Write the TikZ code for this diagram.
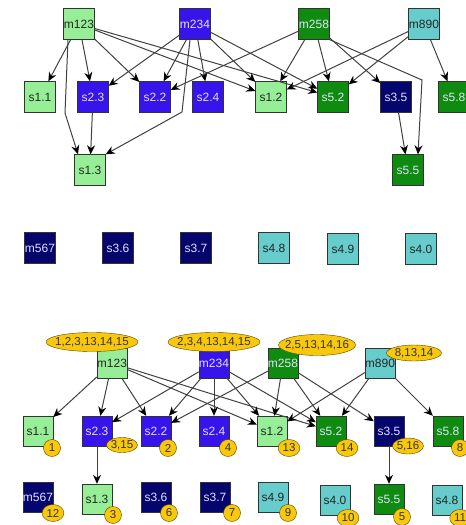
\documentclass[tikz,border=0pt]{standalone}
\usepackage{fontspec}
\setmainfont{Liberation Sans}
\usepackage{tikz}
\usetikzlibrary{arrows.meta}
\usetikzlibrary{shapes.geometric}
\usepackage{xcolor}
\definecolor{ColLight}{RGB}{150,238,150}
\definecolor{ColBlue}{RGB}{55,20,235}
\definecolor{ColGreen}{RGB}{15,140,15}
\definecolor{ColTeal}{RGB}{102,204,204}
\definecolor{ColNavy}{RGB}{5,5,110}
\definecolor{ColTag}{RGB}{250,200,10}
\definecolor{ColLine}{RGB}{65,65,65}
\definecolor{ColPale}{RGB}{225,225,255}
\tikzstyle{Box}=[rectangle,draw=black!80,minimum size=31pt,inner sep=0pt,
font=\fontsize{12}{14}\selectfont]
\tikzstyle{BoxL}=[Box,fill=ColLight,text=black!85]
\tikzstyle{BoxB}=[Box,fill=ColBlue,text=ColPale]
\tikzstyle{BoxG}=[Box,fill=ColGreen,text=ColPale]
\tikzstyle{BoxT}=[Box,fill=ColTeal,text=black!85]
\tikzstyle{BoxN}=[Box,fill=ColNavy,text=ColPale]
\tikzstyle{Tag}=[ellipse,draw=ColTag!35!black,fill=ColTag,inner xsep=1.3pt,inner ysep=0pt,
minimum width=17pt,minimum height=17pt,text=black!80,font=\fontsize{11.5}{13}\selectfont]
\tikzstyle{TagWide}=[Tag,inner xsep=-20pt]
\tikzstyle{EdgeGraph}=[ColLine,line width=1pt,-{Stealth[length=9pt,width=8pt,color=black]}]

\begin{document}
\begin{tikzpicture}[x=1pt,y=-1pt]
        \useasboundingbox[fill=white](0,0)rectangle(466,525);
        \node[BoxL](tm123)at(79,24){m123};
        \node[BoxB](tm234)at(195,24){m234};
        \node[BoxG](tm258)at(314,24){m258};
        \node[BoxT](tm890)at(424,24){m890};
        \node[BoxL](ts11)at(40,97){s1.1};
        \node[BoxB](ts23)at(93,97){s2.3};
        \node[BoxB](ts22)at(155,97){s2.2};
        \node[BoxB](ts24)at(208,97){s2.4};
        \node[BoxL](ts12)at(271,97){s1.2};
        \node[BoxG](ts52)at(333,97){s5.2};
        \node[BoxN](ts35)at(396,97){s3.5};
        \node[BoxG](ts58)at(454,97){s5.8};
        \node[BoxL](ts13)at(90,170){s1.3};
        \node[BoxG](ts55)at(408,170){s5.5};
        \node[BoxN](tm567)at(40,248){m567};
        \node[BoxN](ts36)at(118,248){s3.6};
        \node[BoxN](ts37)at(196,248){s3.7};
        \node[BoxT](ts48)at(274,248){s4.8};
        \node[BoxT](ts49)at(343,249){s4.9};
        \node[BoxT](ts40)at(421,249){s4.0};
        \foreach \a/\b in {tm123/ts11,tm123/ts23,tm123/ts22,tm123/ts12,tm123/ts52,
            tm234/ts23,tm234/ts22,tm234/ts24,tm234/ts12,tm234/ts52,
            tm258/ts22,tm258/ts12,tm258/ts52,tm258/ts35,
            tm890/ts12,tm890/ts52,tm890/ts58,ts23/ts13,ts35/ts55}
            \draw[EdgeGraph](\a)--(\b);
        \draw[EdgeGraph]([xshift=-11pt]tm123.south)--(65,113)--([xshift=-12pt]ts13.north);
        \draw[EdgeGraph]([xshift=-5pt]tm234.south)--(182,112)--(ts13.north east);
        \draw[EdgeGraph](tm258.south east)--(422,80)--([xshift=10pt]ts55.north);
        \tikzstyle{Box}+=[minimum size=30pt]
        \node[BoxL](bm123)at(112,363){m123};
        \node[BoxB](bm234)at(214,363){m234};
        \node[BoxG](bm258)at(283,363){m258};
        \node[BoxT](bm890)at(380,363){m890};
        \node[BoxL](bs11)at(38,431){s1.1};
        \node[BoxB](bs23)at(97,431){s2.3};
        \node[BoxB](bs22)at(156,431){s2.2};
        \node[BoxB](bs24)at(214,431){s2.4};
        \node[BoxL](bs12)at(272,431){s1.2};
        \node[BoxG](bs52)at(331,431){s5.2};
        \node[BoxN](bs35)at(389,431){s3.5};
        \node[BoxG](bs58)at(448,431){s5.8};
        \node[BoxN](bm567)at(38,497){m567};
        \node[BoxL](bs13)at(97,499){s1.3};
        \node[BoxN](bs36)at(156,497){s3.6};
        \node[BoxN](bs37)at(215,497){s3.7};
        \node[BoxT](bs49)at(273,497){s4.9};
        \node[BoxT](bs40)at(335,500){s4.0};
        \node[BoxG](bs55)at(389,499){s5.5};
        \node[BoxT](bs48)at(447,500){s4.8};
        \foreach \a/\b in {bm123/bs11,bm123/bs23,bm123/bs22,bm123/bs12,bm123/bs52,
            bm234/bs23,bm234/bs22,bm234/bs24,bm234/bs12,bm234/bs52,
            bm258/bs22,bm258/bs12,bm258/bs52,bm258/bs35,
            bm890/bs12,bm890/bs52,bm890/bs58,bs23/bs13,bs35/bs55}
            \draw[EdgeGraph](\a)--(\b);
        \node[TagWide,minimum width=92pt,minimum height=19pt](bm123t)at(92,342){1,2,3,13,14,15};
        \node[TagWide,minimum width=92pt,minimum height=19pt](bm234t)at(214,342){2,3,4,13,14,15};
        \node[TagWide,minimum width=77pt,minimum height=21pt](bm258t)at(317,345){2,5,13,14,16};
        \node[TagWide,minimum width=55pt,minimum height=16pt](bm890t)at(414,353){8,13,14};
        \node[Tag](bs11t)at(52,448){1};
        \node[TagWide,minimum width=31pt,minimum height=15pt](bs23t)at(122,445){3,15};
        \node[Tag](bs22t)at(168,448){2};
        \node[Tag](bs24t)at(228,448){4};
        \node[Tag](bs12t)at(289,448){13};
        \node[Tag](bs52t)at(347,448){14};
        \node[TagWide,minimum width=31pt,minimum height=16pt](bs35t)at(408,446){5,16};
        \node[Tag](bs58t)at(460,448){8};
        \node[Tag](bm567t)at(53,513){12};
        \node[Tag](bs13t)at(113,515){3};
        \node[Tag](bs36t)at(169,513){6};
        \node[Tag](bs37t)at(232,513){7};
        \node[Tag](bs49t)at(288,513){9};
        \node[Tag](bs40t)at(348,518){10};
        \node[Tag](bs55t)at(402,517){5};
        \node[Tag](bs48t)at(460,518){11};
    \end{tikzpicture}
\end{document}
